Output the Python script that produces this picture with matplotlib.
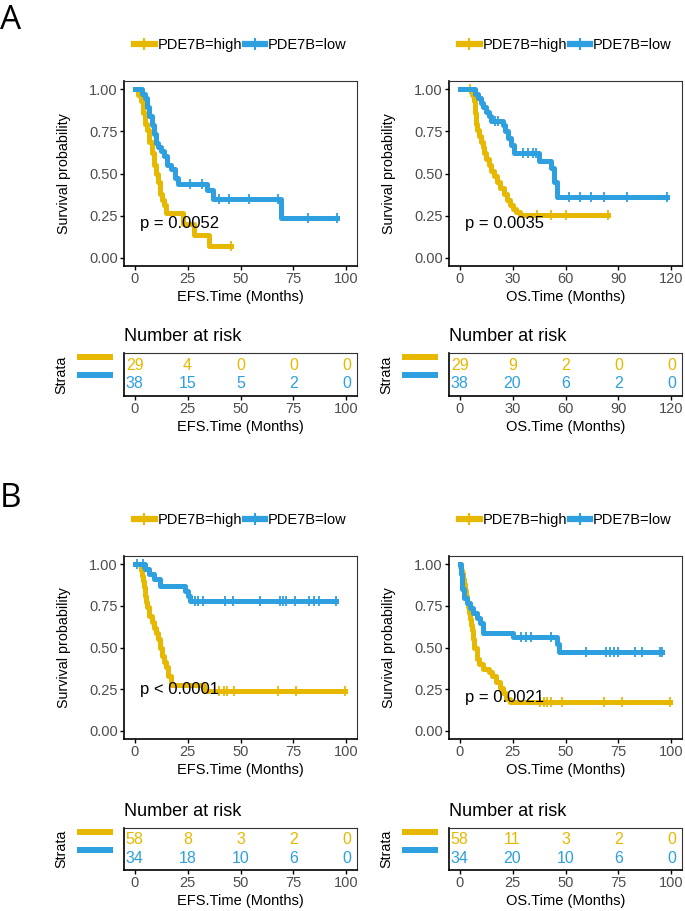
import matplotlib.pyplot as plt
import numpy as np
from matplotlib.lines import Line2D
from matplotlib.transforms import blended_transform_factory

plt.rcParams['font.family'] = ['Liberation Sans', 'DejaVu Sans']

HIGH = '#E7B800'
LOW = '#2E9FDF'
group_labels = ['PDE7B=high', 'PDE7B=low']

# ---- A: EFS ----
efs_a_high_t = [1.5, 3, 4, 5, 6, 7, 8, 9, 10, 11, 12, 13, 14, 15, 23, 28, 35]
efs_a_high_s = [0.966, 0.931, 0.862, 0.793, 0.759, 0.690, 0.621, 0.552, 0.50, 0.448,
                0.379, 0.345, 0.31, 0.265, 0.199, 0.133, 0.066]
efs_a_high_cens = [45.5]
efs_a_low_t = [3.5, 5, 6, 7, 8, 9, 10, 11, 12.5, 14, 15.5, 17, 19, 20.5, 34, 37, 69]
efs_a_low_s = [0.974, 0.947, 0.895, 0.842, 0.79, 0.737, 0.684, 0.658, 0.632, 0.605,
               0.553, 0.526, 0.474, 0.44, 0.40, 0.35, 0.233]
efs_a_low_cens = [26, 32, 40, 44.5, 54, 67.5, 82, 95.5]

# ---- A: OS ----
os_a_high_t = [7, 8, 8.7, 9.4, 10, 11, 12, 13, 14, 15, 16.5, 18, 19.5, 21, 23, 25, 27,
               28.5, 30, 32, 34]
os_a_high_s = [0.966, 0.931, 0.862, 0.793, 0.759, 0.724, 0.690, 0.655, 0.621, 0.586,
               0.552, 0.517, 0.483, 0.448, 0.414, 0.379, 0.345, 0.31, 0.29, 0.27, 0.255]
os_a_high_cens = [6, 44, 52, 60, 84]
os_a_low_t = [9, 10.5, 12, 13.5, 15, 16.5, 18, 24.5, 26, 27.5, 29, 31, 45, 52, 53.5, 55]
os_a_low_s = [0.974, 0.947, 0.921, 0.895, 0.868, 0.842, 0.815, 0.79, 0.75, 0.71, 0.67,
              0.62, 0.575, 0.53, 0.45, 0.36]
os_a_low_cens = [20, 22, 36, 39, 41.5, 43.5, 62, 68, 74.5, 82, 95, 117.5]

# ---- B: EFS ----
efs_b_high_t = [3, 3.5, 4, 4.5, 5, 5.5, 6, 7, 8, 9, 10, 11, 12, 13, 14, 15, 16, 17, 33]
efs_b_high_s = [0.966, 0.931, 0.897, 0.862, 0.81, 0.776, 0.741, 0.69, 0.655, 0.62,
                0.586, 0.552, 0.50, 0.45, 0.41, 0.38, 0.33, 0.276, 0.238]
efs_b_high_cens = [3, 40, 42, 43.5, 47, 67.5, 76, 99.5]
efs_b_low_t = [5, 7, 9, 12, 24, 25, 26]
efs_b_low_s = [0.97, 0.94, 0.91, 0.87, 0.84, 0.81, 0.78]
efs_b_low_cens = [1, 4, 28.5, 30, 32.5, 42.5, 46.5, 59, 68.5, 70, 71.5, 75.5, 82.5,
                  84.5, 87, 95]

# ---- B: OS ----
os_b_high_t = [0.3, 0.6, 1, 1.5, 2, 2.5, 3, 3.5, 4, 4.5, 5, 5.5, 6, 6.5, 7, 8, 9, 11,
               14, 15.5, 17, 19, 20.5, 22, 24]
os_b_high_s = [0.983, 0.966, 0.948, 0.914, 0.879, 0.845, 0.81, 0.776, 0.741, 0.707,
               0.672, 0.638, 0.603, 0.552, 0.5, 0.43, 0.40, 0.37, 0.355, 0.328, 0.293,
               0.259, 0.224, 0.19, 0.172]
os_b_high_cens = [38, 40, 41.5, 43, 48.5, 68, 76.5, 99.5]
os_b_low_t = [0.7, 1.2, 2, 3.5, 5, 6.5, 8, 9.5, 11, 25, 46, 47]
os_b_low_s = [0.94, 0.85, 0.80, 0.77, 0.74, 0.71, 0.68, 0.65, 0.59, 0.565, 0.52, 0.475]
os_b_low_cens = [1, 29, 31.5, 33.5, 43, 59.5, 69, 71, 73, 75, 83, 86, 94.5, 95.5]

# number at risk
ticks_100 = [0, 25, 50, 75, 100]
ticks_120 = [0, 30, 60, 90, 120]
risk_efs_a = [[29, 4, 0, 0, 0], [38, 15, 5, 2, 0]]
risk_os_a = [[29, 9, 2, 0, 0], [38, 20, 6, 2, 0]]
risk_efs_b = [[58, 8, 3, 2, 0], [34, 18, 10, 6, 0]]
risk_os_b = [[58, 11, 3, 2, 0], [34, 20, 10, 6, 0]]
pvals = ['p = 0.0052', 'p = 0.0035', 'p < 0.0001', 'p = 0.0021']
pval_y = [0.2, 0.2, 0.25, 0.2]

panels = [
    dict(curves=[(efs_a_high_t, efs_a_high_s, efs_a_high_cens),
                 (efs_a_low_t, efs_a_low_s, efs_a_low_cens)],
         ticks=ticks_100, xlabel='EFS.Time (Months)', risk=risk_efs_a),
    dict(curves=[(os_a_high_t, os_a_high_s, os_a_high_cens),
                 (os_a_low_t, os_a_low_s, os_a_low_cens)],
         ticks=ticks_120, xlabel='OS.Time (Months)', risk=risk_os_a),
    dict(curves=[(efs_b_high_t, efs_b_high_s, efs_b_high_cens),
                 (efs_b_low_t, efs_b_low_s, efs_b_low_cens)],
         ticks=ticks_100, xlabel='EFS.Time (Months)', risk=risk_efs_b),
    dict(curves=[(os_b_high_t, os_b_high_s, os_b_high_cens),
                 (os_b_low_t, os_b_low_s, os_b_low_cens)],
         ticks=ticks_100, xlabel='OS.Time (Months)', risk=risk_os_b),
]

W, H = 685, 911
fig = plt.figure(figsize=(W / 100, H / 100), dpi=100)


def box(x0, y0, x1, y1):
    # pixel box (top-left origin) -> figure fraction
    return [x0 / W, 1 - y1 / H, (x1 - x0) / W, (y1 - y0) / H]


def style_axes(ax, ticks):
    for side in ['top', 'right']:
        ax.spines[side].set_linewidth(0.8)
        ax.spines[side].set_color('#333333')
    for side in ['left', 'bottom']:
        ax.spines[side].set_linewidth(1.2)
        ax.spines[side].set_color('black')
    ax.tick_params(length=3, width=1, color='black', labelcolor='#4D4D4D',
                   labelsize=10.5, pad=1.5)
    xmax = ticks[-1]
    ax.set_xlim(-0.05 * xmax, 1.05 * xmax)
    ax.set_xticks(ticks)


def step_arrays(t, s):
    return np.r_[0.0, t], np.r_[1.0, s]


colors = [HIGH, LOW]
km_boxes = [(124, 81, 357, 266), (449, 81, 682, 266),
            (124, 556, 357, 739), (449, 556, 682, 739)]
risk_boxes = [(124, 353, 357, 396), (449, 353, 682, 396),
              (124, 828, 357, 870), (449, 828, 682, 870)]

for i, p in enumerate(panels):
    ax = fig.add_axes(box(*km_boxes[i]))
    for (t, s, cens), c in zip(p['curves'], colors):
        tt, ss = step_arrays(t, s)
        end = max(cens[-1], tt[-1])
        ax.step(np.r_[tt, end], np.r_[ss, ss[-1]], where='post', color=c, lw=3.6)
        cy = ss[np.searchsorted(tt, cens, side='right') - 1]
        ax.plot(cens, cy, ls='none', marker='|', ms=7.5, mew=1.3, color=c)
    style_axes(ax, p['ticks'])
    ax.set_ylim(-0.05, 1.05)
    ax.set_yticks([0, 0.25, 0.5, 0.75, 1.0])
    ax.set_yticklabels(['0.00', '0.25', '0.50', '0.75', '1.00'])
    ax.set_xlabel(p['xlabel'], fontsize=10.5, labelpad=2.5)
    ax.set_ylabel('Survival probability', fontsize=10.3, labelpad=13)
    ax.text(0.025 * p['ticks'][-1], pval_y[i], pvals[i], fontsize=12,
            ha='left', va='center')
    handles = [Line2D([], [], color=c, lw=4.5, marker='+', ms=8, mew=1.5)
               for c in colors]
    ax.legend(handles, group_labels, loc='center', bbox_to_anchor=(0.5, 1.195),
              ncol=2, frameon=False, handlelength=1.4, handletextpad=0.2,
              columnspacing=0.2, fontsize=10.5, borderaxespad=0)

    # number at risk table
    rx = fig.add_axes(box(*risk_boxes[i]))
    style_axes(rx, p['ticks'])
    rx.set_ylim(0.36, 2.64)
    rx.set_yticks([])
    rx.tick_params(axis='y', length=0)
    trans = blended_transform_factory(rx.transAxes, rx.transData)
    for row, (vals, c) in enumerate(zip(p['risk'], colors)):
        y = 2 - row
        for tk, v in zip(p['ticks'], vals):
            rx.text(tk, y, str(v), ha='center', va='center', color=c, fontsize=11.5)
        rx.plot([-0.2, -0.047], [y + 0.45, y + 0.45], transform=trans, clip_on=False,
                color=c, lw=4.3, solid_capstyle='butt')
    rx.text(-0.27, 0.5, 'Strata', rotation=90, transform=rx.transAxes,
            ha='center', va='center', fontsize=10.3)
    rx.text(0.0, 1.29, 'Number at risk', transform=rx.transAxes, ha='left',
            va='baseline', fontsize=13)
    rx.set_xlabel(p['xlabel'], fontsize=10.5, labelpad=2.5)

fig.text(0.0, 1 - 29 / H, 'A', fontsize=24, family='Open Sans', va='baseline')
fig.text(0.0, 1 - 506.7 / H, 'B', fontsize=24, family='Open Sans', va='baseline')

fig.savefig('out.png', dpi=100)
